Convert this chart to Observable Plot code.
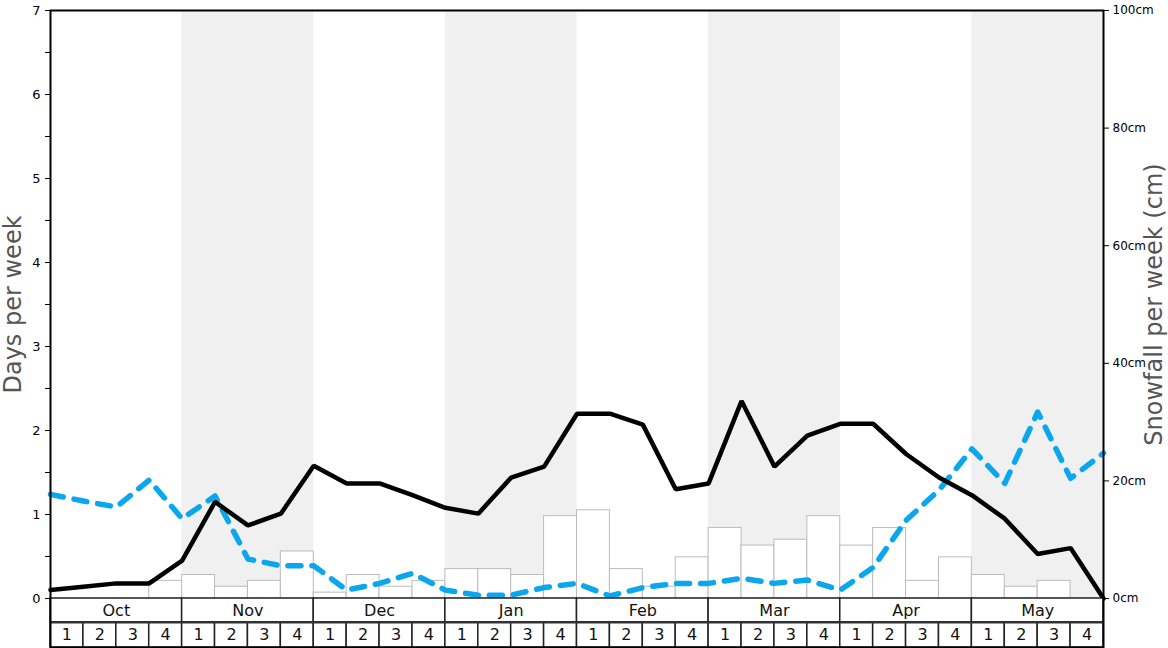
<!DOCTYPE html>
<html>
<head>
<meta charset="utf-8">
<script src="https://cdn.jsdelivr.net/npm/d3@7"></script>
<script src="https://cdn.jsdelivr.net/npm/@observablehq/plot@0.6"></script>
<style>
  html, body { margin: 0; padding: 0; background: #fff; }
  #chart svg { display: block; }
</style>
</head>
<body>
<div id="chart"></div>
<script>
// ---- data ----
const months = ["Oct", "Nov", "Dec", "Jan", "Feb", "Mar", "Apr", "May"];
const weekLabels = ["1", "2", "3", "4"];
// snowfall per week (cm), 32 weeks
const snowfallCm = [0, 0, 0, 3, 4, 2, 3, 8, 1, 4, 2, 3, 5, 5, 4, 14, 15, 5, 2, 7, 12, 9, 10, 14, 9, 12, 3, 7, 4, 2, 3, 0];
// days per week (solid black), at week boundaries (33 points)
const blackDays = [0.1, 0.14, 0.18, 0.18, 0.45, 1.15, 0.87, 1.01, 1.58, 1.37, 1.37, 1.23, 1.08, 1.01, 1.44, 1.57, 2.2, 2.2, 2.07, 1.3, 1.37, 2.35, 1.57, 1.94, 2.08, 2.08, 1.72, 1.44, 1.23, 0.95, 0.53, 0.6, 0];
// days per week (dashed blue)
const blueDays = [1.24, 1.16, 1.09, 1.41, 0.95, 1.22, 0.47, 0.39, 0.39, 0.1, 0.18, 0.3, 0.1, 0.04, 0.04, 0.13, 0.18, 0.03, 0.13, 0.18, 0.18, 0.24, 0.18, 0.22, 0.1, 0.37, 0.93, 1.29, 1.78, 1.37, 2.22, 1.43, 1.73];
const daysTicks = [0, 1, 2, 3, 4, 5, 6, 7];
const daysMinorTicks = [0.5, 1.5, 2.5, 3.5, 4.5, 5.5, 6.5];
const cmTicks = [0, 20, 40, 60, 80, 100];

// ---- derived tables ----
const cmToDays = 7 / 100;
const monthRows = months.map((m, i) => ({ m, i }));
const weekRows = d3.range(months.length * 4).map(i => ({ i, label: weekLabels[i % 4] }));
const bars = snowfallCm.map((cm, i) => ({ i, cm })).filter(d => d.cm > 0);
const blackPts = blackDays.map((v, i) => ({ i, v }));
const bluePts = blueDays.map((v, i) => ({ i, v }));
const shaded = monthRows.filter(d => d.i % 2 === 1);

const rowMid = -1 / 7, rowBot = -2 / 7, weekBot = -7 / 12;

const chart = Plot.plot({
  width: 1168,
  height: 648,
  marginLeft: 50,
  marginRight: 65,
  marginTop: 10,
  marginBottom: 1,
  style: { fontFamily: "DejaVu Sans, sans-serif", background: "#fff" },
  x: { type: "linear", domain: [0, 32], axis: null },
  y: { domain: [weekBot, 7], axis: null },
  marks: [
    Plot.rect(shaded, { x1: d => d.i * 4, x2: d => d.i * 4 + 4, y1: () => 0, y2: () => 7, fill: "#f0f0f0" }),
    Plot.rect(bars, { x1: d => d.i, x2: d => d.i + 1, y1: () => 0, y2: d => d.cm * cmToDays, fill: "#fff", stroke: "#bbb", strokeWidth: 1 }),
    Plot.ruleY([0], { stroke: "#999", strokeWidth: 1 }),
    Plot.line(bluePts, { x: "i", y: "v", stroke: "#0aa6ee", strokeWidth: 5.5, strokeDasharray: "13,11" }),
    Plot.line(blackPts, { x: "i", y: "v", stroke: "#000", strokeWidth: 4.5, strokeLinejoin: "miter" }),
    // month row
    Plot.rect(monthRows, { x1: d => d.i * 4, x2: d => d.i * 4 + 4, y1: () => rowBot, y2: () => 0, fill: "#fff", stroke: "#222", strokeWidth: 1.5 }),
    Plot.text(monthRows, { x: d => d.i * 4 + 2, y: () => rowMid, text: "m", fontSize: 16, fill: "#111" }),
    // week row
    Plot.rect(weekRows, { x1: d => d.i, x2: d => d.i + 1, y1: () => weekBot, y2: () => rowBot, fill: "#fff", stroke: "#222", strokeWidth: 1.5 }),
    Plot.text(weekRows, { x: d => d.i + 0.5, y: () => (rowBot + weekBot) / 2, text: "label", fontSize: 16, fill: "#111" }),
    Plot.ruleY([rowBot], { stroke: "#333", strokeWidth: 2 }),
    Plot.frame({ stroke: "#000", strokeWidth: 2 }),
    // left axis
    Plot.axisY({ anchor: "left", ticks: daysTicks, tickSize: 5, tickPadding: 5, fontSize: 13, tickFormat: d => d, label: null, stroke: "#000" }),
    Plot.axisY({ anchor: "left", ticks: daysMinorTicks, tickSize: 5, tickFormat: () => "", label: null }),
    // right axis (cm)
    Plot.axisY({ anchor: "right", ticks: cmTicks.map(c => c * cmToDays), tickSize: 5, tickPadding: 4, fontSize: 12, tickFormat: d => Math.round(d / cmToDays) + "cm", label: null }),
    // axis titles
    Plot.text(["Days per week"], { frameAnchor: "left", textAnchor: "middle", y: () => 3.5, dx: -37, rotate: -90, fontSize: 24, fill: "#555" }),
    Plot.text(["Snowfall per week (cm)"], { frameAnchor: "right", textAnchor: "middle", y: () => 3.5, dx: 51, rotate: -90, fontSize: 24, fill: "#555" })
  ]
});
document.getElementById("chart").appendChild(chart);
</script>
</body>
</html>
